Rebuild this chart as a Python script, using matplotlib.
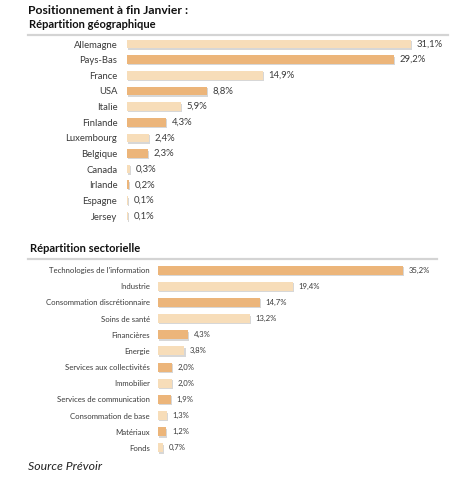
import matplotlib
matplotlib.use("Agg")
import matplotlib.pyplot as plt
from matplotlib import patheffects as pe
from matplotlib.lines import Line2D

plt.rcParams['font.family'] = ['Lato', 'DejaVu Sans']

geo_labels = ["Allemagne", "Pays-Bas", "France", "USA", "Italie", "Finlande",
              "Luxembourg", "Belgique", "Canada", "Irlande", "Espagne", "Jersey"]
geo_values = [31.1, 29.2, 14.9, 8.8, 5.9, 4.3, 2.4, 2.3, 0.3, 0.2, 0.1, 0.1]
geo_dark = [False, True, False, True, False, True, False, True, False, True, False, False]

sec_labels = ["Technologies de l'information", "Industrie", "Consommation discrétionnaire",
              "Soins de santé", "Financières", "Energie", "Services aux collectivités",
              "Immobilier", "Services de communication", "Consommation de base",
              "Matériaux", "Fonds"]
sec_values = [35.2, 19.4, 14.7, 13.2, 4.3, 3.8, 2.0, 2.0, 1.9, 1.3, 1.2, 0.7]
sec_dark = [True, False, True, False, True, False, True, False, True, False, True, False]

LIGHT = "#F7DDB9"
DARK = "#ECB57A"

W, H = 471, 480
fig = plt.figure(figsize=(W / 100, H / 100), dpi=100)


def px_axes(left, top, right, bottom):
    return fig.add_axes([left / W, 1 - bottom / H, (right - left) / W, (bottom - top) / H])


def draw(ax, labels, values, dark, xmax, fs_lab, fs_val, pad):
    n = len(values)
    ys = list(range(n))
    colors = [DARK if d else LIGHT for d in dark]
    bars = ax.barh(ys, values, height=0.55, color=colors, edgecolor='none')
    for b in bars:
        b.set_path_effects([pe.SimplePatchShadow(offset=(0.8, -1.0), shadow_rgbFace='#bdbdbd', alpha=0.6),
                            pe.Normal()])
    ax.set_xlim(0, xmax)
    ax.set_ylim(n - 0.5, -0.5)
    ax.set_yticks(ys)
    ax.set_yticklabels(labels, fontsize=fs_lab, color='#3a3a3a')
    ax.tick_params(axis='y', length=0, pad=pad)
    ax.set_xticks([])
    for s in ax.spines.values():
        s.set_visible(False)
    for y, v in zip(ys, values):
        ax.annotate(f"{v:.1f}%".replace('.', ','), (v, y), xytext=(4, 0),
                    textcoords='offset points', va='center', ha='left',
                    fontsize=fs_val, color='#3a3a3a')


ax1 = px_axes(127, 36.2, 127 + 35 * 9.13, 223.9)
draw(ax1, geo_labels, geo_values, geo_dark, 35, 6.8, 6.8, 7)

ax2 = px_axes(158, 262, 158 + 40 * 6.96, 456)
draw(ax2, sec_labels, sec_values, sec_dark, 40, 5.6, 5.6, 6)

fig.text(28 / W, 1 - 10.5 / H, "Positionnement à fin Janvier :", fontsize=8.7,
         fontweight='bold', va='center', ha='left', color='#111111')
fig.text(29 / W, 1 - 24.5 / H, "Répartition géographique", fontsize=8.0,
         fontweight='bold', va='center', ha='left', color='#111111')
fig.add_artist(Line2D([28 / W, 448 / W], [1 - 35 / H, 1 - 35 / H], color='#d4d4d4', lw=1.6))

fig.text(30 / W, 1 - 248 / H, "Répartition sectorielle", fontsize=8.0,
         fontweight='bold', va='center', ha='left', color='#111111')
fig.add_artist(Line2D([28 / W, 437 / W], [1 - 259 / H, 1 - 259 / H], color='#d4d4d4', lw=1.6))

fig.text(28 / W, 1 - 466 / H, "Source Prévoir", fontsize=8.8, style='italic',
         va='center', ha='left', color='#222222')

fig.savefig("out.png", dpi=100)
